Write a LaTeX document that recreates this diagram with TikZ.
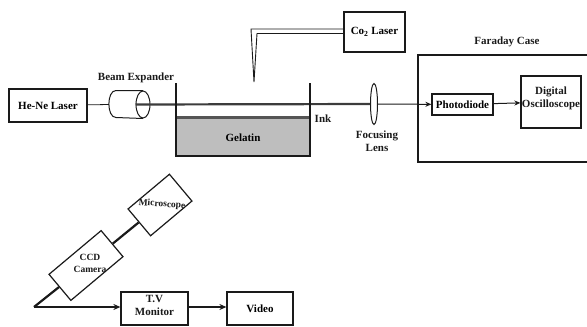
\documentclass[tikz,border=0pt]{standalone}
\usepackage{fontspec}
\setmainfont{Liberation Serif}
\usetikzlibrary{shapes.geometric,arrows.meta}
\definecolor{gel}{HTML}{BEBEBE}
\definecolor{inkc}{HTML}{555555}
\definecolor{deep}{HTML}{1A1A1A}
\tikzset{
  % Boks med tekst: bredde og hoejde gives ved kaldet
  blok/.style={draw=deep, line width=1.2pt, fill=white, inner sep=0pt,
    font=\fontsize{11}{12.5}\selectfont\bfseries, align=center},
  tag/.style={font=\fontsize{11}{13}\selectfont\bfseries, inner sep=0pt, align=center, text=deep},
  tagsmall/.style={font=\fontsize{9.5}{12}\selectfont\bfseries, inner sep=0pt, align=center, text=deep},
  wall/.style={draw=deep, line width=1.1pt},
  beam/.style={draw=deep!85!white, line width=2.2pt},
  wire/.style={draw=deep, line width=.8pt},
  arrow/.style={draw=deep, line width=1pt, -{Stealth[length=6pt,width=5pt]}},
  arrowb/.style={draw=deep, line width=1.4pt, -{Stealth[length=7pt,width=6pt]}},
  tube/.style={draw=deep, line width=2.2pt},
}
\newcommand{\blok}[6][0]{%
  \node[blok, minimum width=#4pt, minimum height=#5pt, rotate=#1] (#2) at (#3) {#6};}

\begin{document}
\begin{tikzpicture}[x=1pt,y=-1pt]
\useasboundingbox (0,0) rectangle (587,327);

% ----- oeverste raekke -----
\blok{laser}{48,105.5}{78}{33}{He-Ne Laser}
\blok{co2}{374.5,32}{61}{40}{Co\textsubscript{2} Laser}
\blok{faraday}{504,108.5}{172}{107}{}
\blok{photo}{462.5,104.5}{61}{21}{Photodiode}
\blok{scope}{551,102}{60}{52}{}
\node[tag] (lblscope) at (551,98) {Digital\\Oscilloscope};

% ----- beholder -----
\node[fill=gel, minimum width=134pt, minimum height=37pt, inner sep=0pt] (gelatin) at (243,137.5)
  {\fontsize{11}{12}\selectfont\bfseries Gelatin};
\node[fill=inkc, minimum width=134pt, minimum height=3.5pt, inner sep=0pt] (ink) at (243,117.5) {};
\draw[wall] (176,83) -- (176,156) -- (310,156) -- (310,83);

% ----- optik -----
\node[ellipse, draw=deep, line width=1pt, inner sep=0pt,
  minimum width=14pt, minimum height=27pt] (expander) at (143,104.5) {};
\coordinate (expback) at (109,104.5);
\draw[draw=deep, line width=1pt] (expander.north) -- ++(-27,0)
  .. controls +(-9.5,0) and +(-9.5,0) .. ++(0,27) -- (expander.south);
\node[ellipse, draw=deep, line width=1pt, fill=white, inner sep=0pt,
  minimum width=7pt, minimum height=41pt] (lens) at (374,104) {};

\draw[wire] (laser) -- (expback);
\draw[beam] (expander.west) -- (lens);
\draw[wall] (176,83) -- (176,110);
\draw[wall] (310,83) -- (310,110);
\draw[arrow] (lens) -- (photo);
\draw[arrow] (photo) -- (scope);

% ----- naal fra CO2-laser -----
\coordinate (tipn) at (254,82);
\draw[line width=.9pt, draw=deep] (co2.west |- 0,29) -- (251,29) -- (tipn) -- (257,33.5) -- (co2.west |- 0,33.5);

% ----- etiketter -----
\node[tag] (lblexp) at (136,78) {Beam Expander};
\node[tag] (lblink) at (323,119) {Ink};
\node[tag] (lbllens) at (377,141) {Focusing\\Lens};
\node[tag] (lblcase) at (507,42) {Faraday Case};

% ----- nederste del -----
\blok[40]{micro}{160,205}{54}{35}{}
\node[tagsmall, rotate=-4] (lblmicro) at (162,204.5) {Microscope};
\blok[40]{ccd}{86,265.5}{68}{34}{}
\node[tagsmall] (lblccd) at (90,263) {CCD\\Camera};
\blok{tv}{154.5,308.5}{67}{33}{}
\node[tag] (lbltv) at (154.5,305.5) {T.V\\Monitor};
\blok{video}{260,308.5}{66}{33}{Video}
\coordinate (corner) at (34,307);

\draw[tube] (ccd) -- (micro);
\draw[tube] (corner) -- (ccd);
\draw[arrowb] (corner) -- (tv.west |- corner);
\draw[arrowb] (tv.east |- corner) -- (video.west |- corner);

\end{tikzpicture}
\end{document}
